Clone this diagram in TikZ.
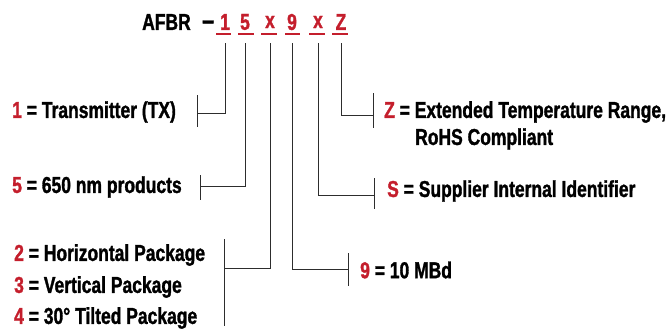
\documentclass[tikz,border=0pt]{standalone}
\usepackage{fontspec}
\setmainfont{Liberation Sans}[FakeStretch=0.76,UprightFont=*-Bold,BoldFont=*-Bold,BoldFeatures={FakeBold=1.3},UprightFeatures={FakeBold=1.3}]
\definecolor{pnred}{RGB}{196,30,44}
\definecolor{pnline}{RGB}{45,45,45}
\begin{document}
\begin{tikzpicture}[x=1pt,y=-1pt,
  txt/.style={anchor=west,inner sep=0pt,font=\fontsize{23}{26}\selectfont},
  dig/.style={inner sep=0pt,font=\fontsize{23}{26}\selectfont,text=pnred},
  uline/.style={draw=pnred,line width=2.2pt},
  conn/.style={draw=pnline,line width=1pt},
  bar/.style={draw=pnline,line width=1pt}]
\useasboundingbox (0,0) rectangle (670,330);
\newcommand{\rd}[1]{\textcolor{pnred}{#1}}
% part number
\node[txt] (afbr) at (142,22) {AFBR};
\node[txt] (dash) at (202,25) {\fontsize{28}{30}\selectfont –};
\node[dig] (d1) at (225,22) {1};
\node[dig] (d2) at (245,22) {5};
\node[dig] (d3) at (270,22) {x};
\node[dig] (d4) at (292,22) {9};
\node[dig] (d5) at (318,22) {x};
\node[dig] (d6) at (341,22) {Z};
\foreach \n/\a/\b in {d1/216/231,d2/238/254,d3/261/277,d4/285/300,d5/309/325,d6/332/348}
  \draw[uline] (\a,34) -- (\b,34);
% labels
\node[txt] (l1) at (12,112) {\rd{1} = Transmitter (TX)};
\node[txt] (l5) at (12,187) {\rd{5} = 650 nm products};
\node[txt] (l2) at (14,255) {\rd{2} = Horizontal Package};
\node[txt] (l3) at (14,287) {\rd{3} = Vertical Package};
\node[txt] (l4) at (14,318) {\rd{4} = 30° Tilted Package};
\node[txt] (lz) at (384,112) {\rd{Z} = Extended Temperature Range,};
\node[txt] (lz2) at (415,139) {RoHS Compliant};
\node[txt] (ls) at (387,191) {\rd{S} = Supplier Internal Identifier};
\node[txt] (l9) at (360,270) {\rd{9} = 10 MBd};
% bars
\coordinate (b1) at (197,113);
\coordinate (b2) at (200,186);
\coordinate (b3) at (224,268);
\coordinate (b4) at (348,269);
\coordinate (b5) at (374,195);
\coordinate (b6) at (373,115);
\draw[bar] (197,95) -- (197,127);
\draw[bar] (200,175) -- (200,200);
\draw[bar] (224,239) -- (224,326);
\draw[bar] (348,253) -- (348,286);
\draw[bar] (374,178) -- (374,209);
\draw[bar] (373,93) -- (373,128);
% connectors
\draw[conn] (d1 |- 0,43) -- (d1 |- b1) -- (b1);
\draw[conn] (d2 |- 0,43) -- (d2 |- b2) -- (b2);
\draw[conn] (d3 |- 0,43) -- (d3 |- b3) -- (b3);
\draw[conn] (d4 |- 0,43) -- (d4 |- b4) -- (b4);
\draw[conn] (d5 |- 0,43) -- (d5 |- b5) -- (b5);
\draw[conn] (d6 |- 0,43) -- (d6 |- b6) -- (b6);
\end{tikzpicture}
\end{document}
